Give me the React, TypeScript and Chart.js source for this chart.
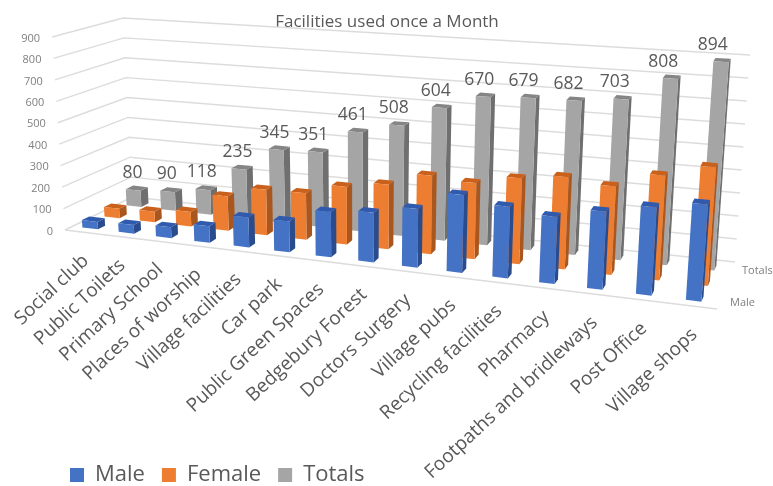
import React, { useEffect, useRef } from "react";
import { Chart, BarController, BarElement, CategoryScale, LinearScale, Legend, Title } from "chart.js";

const categories = ["Social club","Public Toilets","Primary School","Places of worship","Village facilities","Car park","Public Green Spaces","Bedgebury Forest","Doctors Surgery","Village pubs","Recycling facilities","Pharmacy","Footpaths and bridleways","Post Office","Village shops"];
const male = [35,40,50,75,135,138,200,218,255,335,305,283,325,365,397];
const female = [45,50,68,160,210,213,261,290,349,335,374,399,378,443,497];
const totals = [80,90,118,235,345,351,461,508,604,670,679,682,703,808,894];
const seriesNames = ["Male","Female","Totals"];
const yTicksMax = 900;
const FONT = "'Open Sans', sans-serif";

// Projection frame of the 3D box (floor and ceiling corners on the canvas)
const floor = { fl: [65,230], fr: [717,309], bl: [132,197], br: [735,262] };
const ceil = { fl: [52,37], fr: [733,86], bl: [123,18], br: [750,55] };
const WARP = 0.816;
const BAR_W = 0.024;
const BAR_D = 0.11;

const lerp = (a: number, b: number, t: number) => a + (b - a) * t;
const warp = (u: number) => WARP * u + (1 - WARP) * u * u;
function corner(q: any, u: number, d: number) {
  const fx = lerp(q.fl[0], q.fr[0], u), fy = lerp(q.fl[1], q.fr[1], u);
  const bx = lerp(q.bl[0], q.br[0], u), by = lerp(q.bl[1], q.br[1], u);
  return [lerp(fx, bx, d), lerp(fy, by, d)];
}
function project(u: number, d: number, h: number) {
  const a = corner(floor, u, d), b = corner(ceil, u, d);
  return [lerp(a[0], b[0], h), lerp(a[1], b[1], h)];
}
const heightOf = (chart: any, v: number) => {
  const y = chart.scales.y;
  return (y.bottom - y.getPixelForValue(v)) / (y.bottom - y.top);
};
const uOf = (chart: any, i: number) => {
  const x = chart.scales.x;
  return warp((x.getPixelForValue(i) - x.left) / x.width);
};
const depthOf = (s: number) => (s + 0.5) / 3;

const faces = [
  { front: "#4472C4", side: "#2B4C8C", top: "#2F5AAE" },
  { front: "#ED7D31", side: "#A9571F", top: "#C9601B" },
  { front: "#A5A5A5", side: "#6F6F6F", top: "#858585" },
];

function poly(ctx: CanvasRenderingContext2D, pts: number[][], fill: string) {
  ctx.beginPath();
  pts.forEach((p, i) => (i ? ctx.lineTo(p[0], p[1]) : ctx.moveTo(p[0], p[1])));
  ctx.closePath();
  ctx.fillStyle = fill;
  ctx.fill();
}

class Bar3DController extends BarController {
  static id = "bar3d";
  static defaults = BarController.defaults;
  static overrides = BarController.overrides;
  draw() {
    const chart: any = this.chart;
    const ctx = chart.ctx;
    const meta: any = this._cachedMeta;
    const s = this.index;
    const c = faces[s];
    const d = depthOf(s);
    ctx.save();
    meta._parsed.forEach((pt: any, i: number) => {
      const u = uOf(chart, i);
      const h = heightOf(chart, pt.y);
      const u0 = u - BAR_W / 2, u1 = u + BAR_W / 2, d0 = d - BAR_D / 2, d1 = d + BAR_D / 2;
      poly(ctx, [project(u1, d0, 0), project(u1, d1, 0), project(u1, d1, h), project(u1, d0, h)], c.side);
      poly(ctx, [project(u0, d0, h), project(u1, d0, h), project(u1, d1, h), project(u0, d1, h)], c.top);
      poly(ctx, [project(u0, d0, 0), project(u1, d0, 0), project(u1, d0, h), project(u0, d0, h)], c.front);
    });
    ctx.restore();
  }
}

const frame3d = {
  id: "frame3d",
  beforeDatasetsDraw(chart: any) {
    const ctx = chart.ctx;
    ctx.save();
    ctx.strokeStyle = "#DCDCDC";
    ctx.lineWidth = 1.4;
    chart.scales.y.ticks.forEach((t: any) => {
      const h = heightOf(chart, t.value);
      const a = project(0, 0, h), b = project(0, 1, h), c = project(1, 1, h);
      ctx.beginPath();
      ctx.moveTo(a[0], a[1]);
      ctx.lineTo(b[0], b[1]);
      ctx.lineTo(c[0], c[1]);
      ctx.stroke();
    });
    const a = project(0, 0, 0), b = project(1, 0, 0);
    ctx.beginPath();
    ctx.moveTo(a[0], a[1]);
    ctx.lineTo(b[0], b[1]);
    ctx.stroke();
    ctx.restore();
  },
  afterDatasetsDraw(chart: any) {
    const ctx = chart.ctx;
    ctx.save();
    // y axis tick labels, following the slanted front-left edge
    ctx.font = `11px ${FONT}`;
    ctx.fillStyle = "#7F7F7F";
    ctx.textAlign = "right";
    ctx.textBaseline = "middle";
    chart.scales.y.ticks.forEach((t: any) => {
      const p = project(0, 0, heightOf(chart, t.value));
      ctx.fillText(t.label, p[0] - 12, p[1] + 1.5);
    });
    // depth axis labels
    ctx.textAlign = "left";
    [0, 2].forEach((s) => {
      const p = project(1, depthOf(s), 0);
      ctx.fillText(seriesNames[s], p[0] + 10, p[1] + 1.5);
    });
    // values above the Totals bars
    ctx.font = `17.5px ${FONT}`;
    ctx.fillStyle = "#595959";
    ctx.textAlign = "center";
    ctx.textBaseline = "middle";
    totals.forEach((v, i) => {
      const u = uOf(chart, i);
      const p = project(u - BAR_W / 2, depthOf(2), heightOf(chart, v));
      ctx.fillText(String(v), p[0] + 3 - 5 * u * u, p[1] - 14.5);
    });
    // category labels
    ctx.font = `19px ${FONT}`;
    ctx.fillStyle = "#595959";
    ctx.textAlign = "right";
    categories.forEach((name, i) => {
      const p = project(uOf(chart, i), 0, 0);
      ctx.save();
      ctx.translate(p[0] + 3, p[1] + 26);
      ctx.rotate((-43 * Math.PI) / 180);
      ctx.fillText(name, 0, 0);
      ctx.restore();
    });
    ctx.restore();
  },
};

Chart.register(Bar3DController, BarElement, CategoryScale, LinearScale, Legend, Title);

export default function App() {
  const ref = useRef<HTMLCanvasElement | null>(null);
  useEffect(() => {
    const chart = new Chart(ref.current as HTMLCanvasElement, {
      type: "bar3d" as any,
      data: {
        labels: categories,
        datasets: [male, female, totals].map((data, s) => ({
          label: seriesNames[s],
          data,
          backgroundColor: faces[s].front,
          borderWidth: 0,
          clip: false as any,
        })),
      },
      options: {
        animation: false,
        responsive: false,
        layout: { padding: { left: 53, right: 52, bottom: -10, top: 0 } },
        scales: {
          x: {
            type: "category",
            offset: true,
            grid: { display: false },
            border: { display: false },
            ticks: { display: false },
            afterFit: (s: any) => { s.height = 150; },
          },
          y: {
            type: "linear",
            min: 0,
            max: yTicksMax,
            grid: { display: false },
            border: { display: false },
            ticks: { display: false, stepSize: 100 },
          },
        },
        plugins: {
          title: {
            display: true,
            text: "Facilities used once a Month",
            color: "#595959",
            font: { family: FONT, size: 17, weight: "normal" },
            padding: { top: 12, bottom: 8 },
          },
          legend: {
            position: "bottom",
            align: "start",
            labels: {
              color: "#595959",
              font: { family: FONT, size: 22 },
              boxWidth: 14,
              boxHeight: 14,
              padding: 17,
            },
          },
          tooltip: { enabled: false },
        },
      },
      plugins: [frame3d],
    } as any);
    return () => chart.destroy();
  }, []);
  return (
    <div style={{ position: "fixed", left: 0, top: 0, width: 773, height: 486, background: "#fff" }}>
      <canvas ref={ref} width={773} height={486} style={{ display: "block", filter: "blur(0.4px)" }} />
    </div>
  );
}
